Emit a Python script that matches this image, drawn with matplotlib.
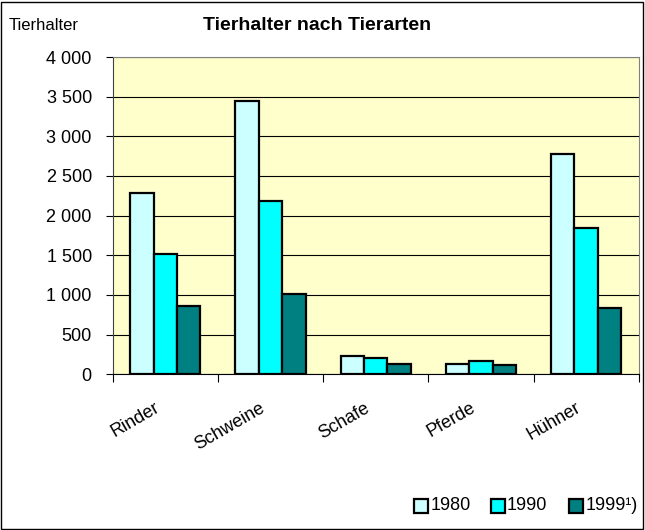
import matplotlib
matplotlib.use("Agg")
import matplotlib.pyplot as plt
import matplotlib.patches as mpatches
from matplotlib.transforms import ScaledTranslation
import numpy as np

plt.rcParams["font.family"] = ["Liberation Sans", "DejaVu Sans"]

# ── DATA ─────────────────────────────────────────────────────────────────────
categories = ["Rinder", "Schweine", "Schafe", "Pferde", "Hühner"]
years      = ["1980", "1990", "1999¹)"]
v1980      = [2290, 3450, 230, 125, 2780]
v1990      = [1520, 2180, 210, 165, 1850]
v1999      = [865, 1010, 128, 115, 840]
yticks     = [0, 500, 1000, 1500, 2000, 2500, 3000, 3500, 4000]

C1980 = "#CCFFFF"
C1990 = "#00FFFF"
C1999 = "#008080"
PLOT_BG = "#FFFFCC"

W, H = 645, 530
fig = plt.figure(figsize=(W / 100, H / 100), dpi=100)
fig.patch.set_facecolor("white")

ax = fig.add_axes([112.7 / W, 1 - 374.3 / H, 526 / W, (374.3 - 57) / H])
ax.set_facecolor(PLOT_BG)

x = np.arange(len(categories))
bw = 1 / 4.5
for i, (vals, col) in enumerate([(v1980, C1980), (v1990, C1990), (v1999, C1999)]):
    ax.bar(x + (i - 1) * bw, vals, width=bw, color=col,
           edgecolor="black", linewidth=1.6, zorder=3)

ax.set_xlim(-0.5, len(categories) - 0.5)
ax.set_ylim(0, 4000)
ax.set_yticks(yticks)
ax.set_yticklabels([f"{v:,}".replace(",", " ") for v in yticks], fontsize=13)
ax.grid(axis="y", color="black", linewidth=0.8, zorder=1)
ax.tick_params(axis="y", direction="out", length=5, width=0.8, pad=10)

# category boundaries get the tick marks, labels sit at the centres
ax.set_xticks(np.arange(len(categories) + 1) - 0.5)
ax.set_xticklabels([])
ax.tick_params(axis="x", which="major", direction="out", length=6, width=0.8)
ax.set_xticks(x, minor=True)
ax.set_xticklabels(categories, minor=True, fontsize=13, rotation=30,
                   ha="right", va="top", rotation_mode="anchor")
ax.tick_params(axis="x", which="minor", length=0, pad=18)
for lab in ax.get_xticklabels(minor=True):
    lab.set_transform(lab.get_transform() + ScaledTranslation(-11 / 100, 0, fig.dpi_scale_trans))

for s in ["top", "right"]:
    ax.spines[s].set_color("#808080")
ax.spines["left"].set_color("#404040")
ax.spines["bottom"].set_color("black")

# ── TEXTS ────────────────────────────────────────────────────────────────────
fig.text(317.5 / W, 1 - 26 / H, "Tierhalter nach Tierarten", ha="center", va="center",
         fontsize=14, fontweight="bold")
fig.text(9 / W, 1 - 26 / H, "Tierhalter", ha="left", va="center", fontsize=12)

# ── LEGEND (drawn by hand to match the spacing) ──────────────────────────────
for (lab, col, sx) in zip(years, [C1980, C1990, C1999], [414.3, 491, 569.3]):
    fig.patches.append(mpatches.Rectangle((sx / W, 1 - 512.7 / H), 13.5 / W, 13.4 / H,
                                          transform=fig.transFigure, facecolor=col,
                                          edgecolor="black", linewidth=1.6))
    fig.text((sx + 16) / W, 1 - 506 / H, lab, ha="left", va="center", fontsize=13)

# outer frame
fig.patches.append(mpatches.Rectangle((1 / W, 1 / H), (W - 3) / W, (H - 3) / H,
                                      transform=fig.transFigure, facecolor="none",
                                      edgecolor="black", linewidth=1))

plt.savefig("out.png", dpi=100)
